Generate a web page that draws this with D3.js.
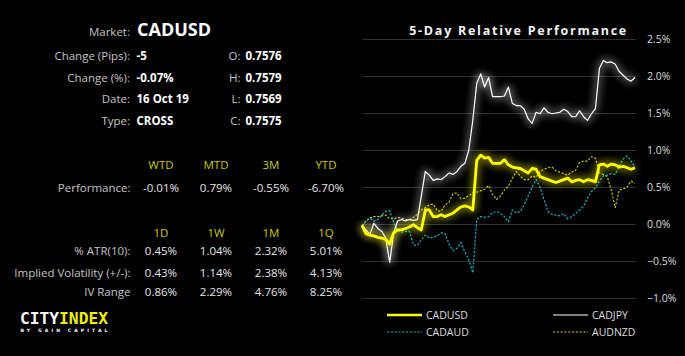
<!DOCTYPE html>
<html><head><meta charset="utf-8">
<script src="https://cdn.jsdelivr.net/npm/d3@7"></script>
<style>
html,body{margin:0;padding:0;background:#000;}
svg{display:block;font-family:"Open Sans",sans-serif;}
</style></head>
<body>
<svg id="c" width="685" height="356"></svg>
<script>
// ---------- data ----------
const market = "CADUSD";
const infoLeft = [["Change (Pips):","-5"],["Change (%):","-0.07%"],["Date:","16 Oct 19"],["Type:","CROSS"]];
const infoRight = [["O:","0.7576"],["H:","0.7579"],["L:","0.7569"],["C:","0.7575"]];
const perfHeaders = ["WTD","MTD","3M","YTD"];
const perfValues = ["-0.01%","0.79%","-0.55%","-6.70%"];
const volHeaders = ["1D","1W","1M","1Q"];
const atrValues = ["0.45%","1.04%","2.32%","5.01%"];
const ivValues = ["0.43%","1.14%","2.38%","4.13%"];
const ivRangeValues = ["0.86%","2.29%","4.76%","8.25%"];
const yTicks = [-1.0,-0.5,0.0,0.5,1.0,1.5,2.0,2.5];

const cadusd = [-0.02,-0.13,-0.15,-0.16,-0.18,-0.19,-0.21,-0.27,-0.12,-0.08,
 -0.08,-0.06,-0.04,-0.01,-0.05,-0.08,0.19,0.19,0.10,0.10,
 0.125,0.10,0.125,0.145,0.19,0.23,0.245,0.23,0.19,0.86,
 0.93,0.89,0.90,0.82,0.82,0.82,0.87,0.80,0.77,0.76,
 0.75,0.72,0.69,0.75,0.74,0.64,0.62,0.60,0.58,0.56,
 0.58,0.60,0.62,0.57,0.59,0.60,0.57,0.60,0.59,0.57,
 0.80,0.81,0.78,0.81,0.80,0.77,0.78,0.76,0.74,0.76];
const cadjpy = [-0.01,-0.08,-0.14,0.01,-0.06,-0.10,-0.19,-0.52,-0.12,0.04,
 0.06,0.04,0.06,0.05,0.06,0.38,0.71,0.66,0.59,0.61,
 0.60,0.64,0.69,0.67,0.71,0.78,0.82,1.00,1.40,1.90,
 2.03,1.85,1.98,1.72,1.72,1.72,1.73,1.85,1.63,1.60,
 1.60,1.55,1.42,1.36,1.51,1.49,1.57,1.51,1.49,1.50,
 1.51,1.55,1.52,1.45,1.45,1.53,1.45,1.40,1.49,1.56,
 2.10,2.21,2.18,2.19,2.16,2.06,2.01,1.96,1.93,1.98];
const cadaud = [-0.02,0.04,0.08,0.04,0.06,0.12,0.17,0.18,0.02,-0.09,
 -0.11,-0.10,-0.10,-0.28,-0.29,-0.21,-0.15,-0.19,-0.18,-0.16,
 -0.12,-0.13,-0.27,-0.36,-0.33,-0.25,-0.38,-0.48,-0.66,0.06,
 0.10,0.09,0.10,0.15,0.17,0.14,0.10,0.03,0.19,0.15,
 0.17,0.26,0.38,0.50,0.60,0.50,0.33,0.17,0.13,0.12,
 0.11,0.14,0.07,0.10,0.14,0.19,0.24,0.35,0.44,0.49,
 0.58,0.65,0.66,0.68,0.67,0.78,0.88,0.92,0.85,0.77];
const audnzd = [-0.03,0.04,0.08,0.10,0.10,0.11,0.12,0.07,0.07,0.09,
 0.08,0.06,0.06,0.09,0.13,0.19,0.22,0.26,0.27,0.18,
 0.17,0.26,0.29,0.41,0.42,0.34,0.35,0.38,0.42,0.43,
 0.45,0.47,0.52,0.40,0.33,0.38,0.46,0.51,0.62,0.71,
 0.65,0.60,0.60,0.65,0.63,0.71,0.74,0.76,0.77,0.72,
 0.70,0.68,0.66,0.70,0.73,0.83,0.85,0.85,0.91,0.89,
 0.69,0.67,0.64,0.46,0.22,0.46,0.47,0.50,0.58,0.55];

const series = [
  {name:"AUDNZD", values:audnzd, color:"#d2d200", width:1.1, dash:"2.2,1.6", glow:false},
  {name:"CADAUD", values:cadaud, color:"#14b4c4", width:1.2, dash:"2.2,1.6", glow:false},
  {name:"CADJPY", values:cadjpy, color:"#ffffff", width:1.2, dash:null, glow:"glowW"},
  {name:"CADUSD", values:cadusd, color:"#ffff00", width:2.8, dash:null, glow:"glowY"}
];

// ---------- drawing ----------
const svg = d3.select("#c");
const defs = svg.append("defs");
function glow(id, op, sd){
  const f = defs.append("filter").attr("id",id).attr("x","-20%").attr("y","-40%").attr("width","140%").attr("height","180%");
  f.append("feGaussianBlur").attr("in","SourceGraphic").attr("stdDeviation",sd).attr("result","b");
  f.append("feComponentTransfer").attr("in","b").attr("result","b2")
    .append("feFuncA").attr("type","linear").attr("slope",op);
  const m = f.append("feMerge");
  m.append("feMergeNode").attr("in","b2");
  m.append("feMergeNode").attr("in","b2");
  m.append("feMergeNode").attr("in","SourceGraphic");
}
glow("glowW",0.9,4.5); glow("glowY",0.6,4.5);

const labelCol = "#c4c4c4", valCol = "#ffffff", headCol = "#c8c800";

// Left info panel
const L = svg.append("g").attr("font-size",11.5);
L.append("text").attr("x",130).attr("y",35.5).attr("text-anchor","end").attr("fill",labelCol).text("Market:");
L.append("text").attr("x",137).attr("y",35.5).attr("fill",valCol).attr("font-size",18).attr("font-weight","bold").text(market);
infoLeft.forEach((d,i)=>{
  const y = 60 + i*21.7;
  L.append("text").attr("x",130).attr("y",y).attr("text-anchor","end").attr("fill",labelCol).text(d[0]);
  L.append("text").attr("x",136.5).attr("y",y).attr("fill",valCol).attr("font-weight","bold").text(d[1]);
});
infoRight.forEach((d,i)=>{
  const y = 60 + i*21.7;
  L.append("text").attr("x",240.5).attr("y",y).attr("text-anchor","end").attr("fill",labelCol).text(d[0]);
  L.append("text").attr("x",245.5).attr("y",y).attr("fill",valCol).attr("font-weight","bold").text(d[1]);
});
const colX = d3.scalePoint().domain(d3.range(4)).range([161,326]);
function row(y, arr, color, label){
  if(label) L.append("text").attr("x",130.5).attr("y",y).attr("text-anchor","end").attr("fill",labelCol).text(label);
  arr.forEach((t,i)=>L.append("text").attr("x",colX(i)).attr("y",y).attr("text-anchor","middle").attr("fill",color).text(t));
}
row(169.3, perfHeaders, headCol);
row(191.5, perfValues, "#e6e6e6", "Performance:");
row(236.5, volHeaders, headCol);
row(255.2, atrValues, "#e6e6e6", "% ATR(10):");
row(276.5, ivValues, "#e6e6e6", "Implied Volatility (+/-):");
row(296, ivRangeValues, "#e6e6e6", "IV Range");

// Logo
const logo = svg.append("g");
const lt = logo.append("text").attr("x",20).attr("y",323.5).attr("font-family","DejaVu Sans Mono, monospace")
  .attr("font-weight","bold").attr("font-size",15.5).attr("textLength",88).attr("lengthAdjust","spacingAndGlyphs");
lt.append("tspan").attr("fill","#ffffff").text("CITY");
lt.append("tspan").attr("fill","#f0f000").text("INDEX");
logo.append("text").attr("x",20.5).attr("y",331.5).attr("fill","#ffffff").attr("font-size",4.6).attr("font-weight","bold")
  .attr("font-family","DejaVu Sans, sans-serif").attr("textLength",87).attr("lengthAdjust","spacing").text("BY GAIN CAPITAL");

// Chart
const x = d3.scaleLinear().domain([0, cadusd.length-1]).range([362, 635]);
const y = d3.scaleLinear().domain([-1, 2.5]).range([298, 39]);

svg.append("text").attr("x",628).attr("y",35).attr("text-anchor","end").attr("fill","#f2f2f2")
  .attr("font-size",12.5).attr("font-weight","bold").attr("letter-spacing",1.75).text("5-Day Relative Performance");

const grid = svg.append("g");
grid.selectAll("line").data(yTicks).join("line")
  .attr("x1",362).attr("x2",636).attr("y1",d=>Math.round(y(d))+0.5).attr("y2",d=>Math.round(y(d))+0.5)
  .attr("stroke","#2f2f2f").attr("stroke-width",1);

const axis = d3.axisRight(y).tickValues(yTicks).tickFormat(d=>d3.format(".1f")(d)+"%").tickSize(0).tickPadding(0);
const ag = svg.append("g").attr("transform","translate(647,0)").call(axis);
ag.select(".domain").remove();
ag.selectAll("text").attr("fill","#dcdcdc").attr("font-size",10.5).attr("font-family","Open Sans, sans-serif").attr("dy","0.36em");

const line = d3.line().x((d,i)=>x(i)).y(d=>y(d)).curve(d3.curveLinear);
series.forEach(s=>{
  svg.append("path").datum(s.values).attr("d",line).attr("fill","none")
    .attr("stroke",s.color).attr("stroke-width",s.width).attr("stroke-linejoin","round")
    .attr("stroke-dasharray",s.dash).attr("filter",s.glow?`url(#${s.glow})`:null);
});

// Legend
const legend = [
  {name:"CADUSD", lx:387, ly:315},
  {name:"CADJPY", lx:553, ly:315},
  {name:"CADAUD", lx:387, ly:332},
  {name:"AUDNZD", lx:553, ly:332}
];
const lg = svg.append("g");
legend.forEach(l=>{
  const s = series.find(d=>d.name===l.name);
  lg.append("line").attr("x1",l.lx).attr("x2",l.lx+35).attr("y1",l.ly).attr("y2",l.ly)
    .attr("stroke",s.color).attr("stroke-width",s.name==="CADUSD"?2.5:1.2).attr("stroke-dasharray",s.dash);
  lg.append("text").attr("x",l.lx+39).attr("y",l.ly).attr("dy","0.36em").attr("fill","#dcdcdc").attr("font-size",10.5).text(l.name);
});
</script>
</body></html>
